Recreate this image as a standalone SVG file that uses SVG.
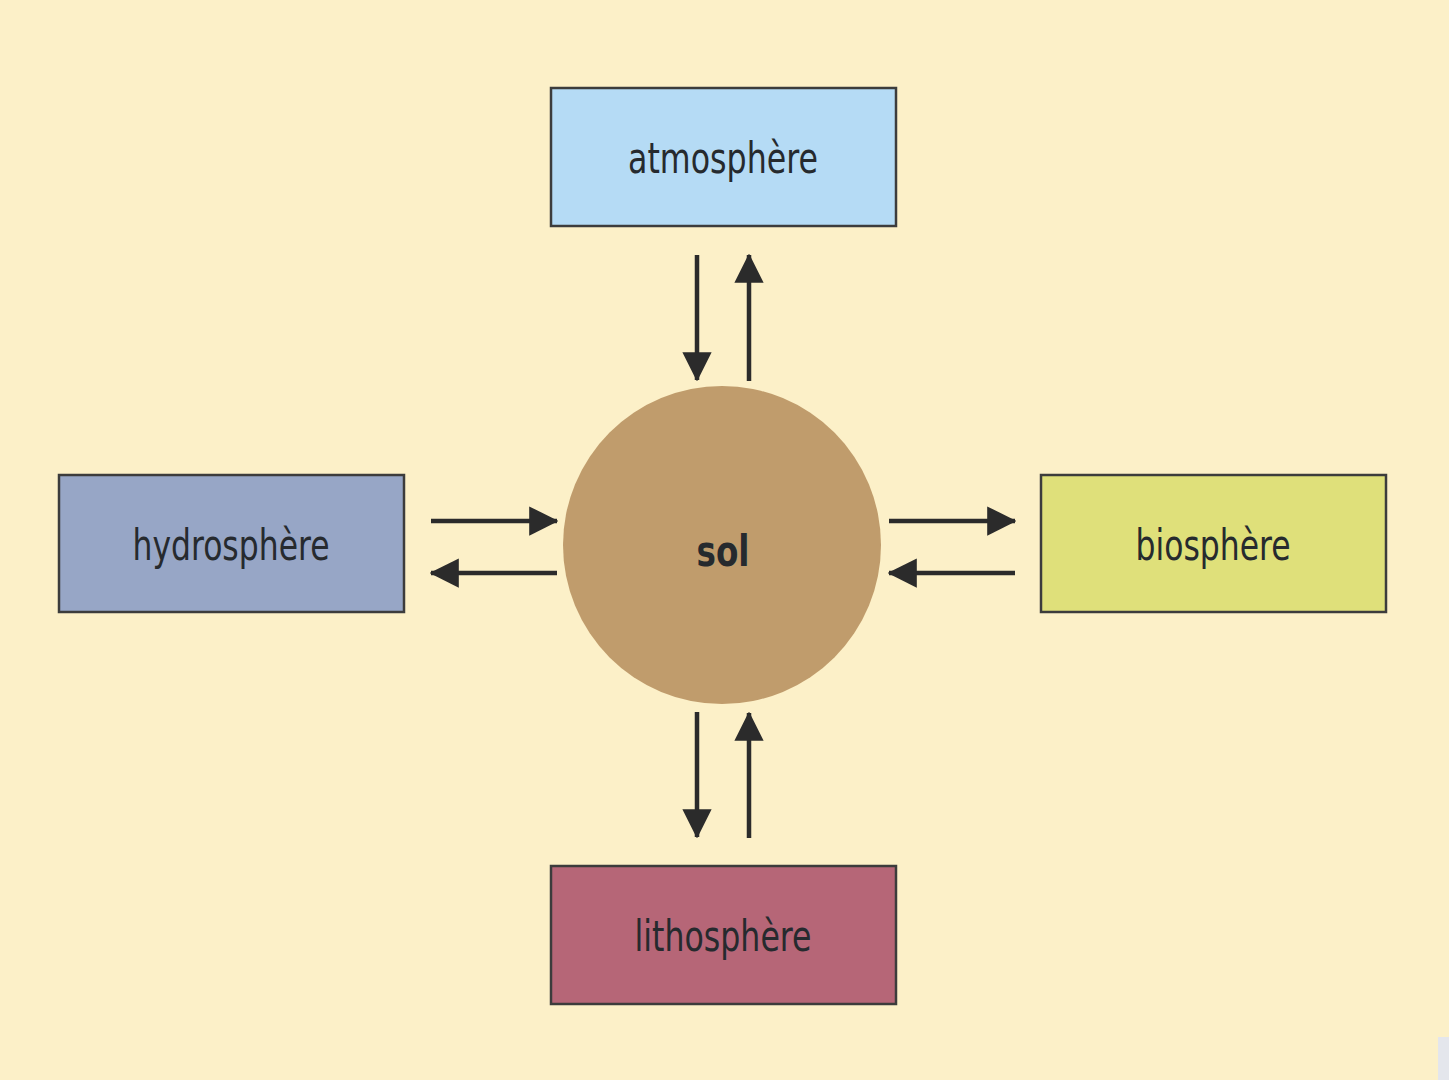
<svg xmlns="http://www.w3.org/2000/svg" width="1449" height="1080" viewBox="0 0 1449 1080">
<style>
.box{stroke:#3c3c3c;stroke-width:2.5}
.lbl{font-family:"Liberation Sans Narrow","DejaVu Sans Condensed","Liberation Sans",sans-serif;font-size:42px;fill:#262a2e;text-anchor:middle}
.arr{stroke:#2b2b2b;stroke-width:4.5;fill:none;marker-end:url(#ah)}
</style>
<defs>
<marker id="ah" viewBox="0 0 10 10" refX="9.5" refY="5" markerWidth="6.5" markerHeight="7.5" markerUnits="strokeWidth" orient="auto">
<path d="M0,0 L10,5 L0,10 Z" fill="#2b2b2b"/>
</marker>
</defs>
<rect width="1449" height="1080" fill="#fcf0c8"/>
<rect x="1438" y="1037" width="11" height="43" fill="#e4e6ec"/>
<g id="connectors">
<line class="arr" x1="697" y1="255" x2="697" y2="380"/>
<line class="arr" x1="749" y1="381" x2="749" y2="255"/>
<line class="arr" x1="697" y1="712" x2="697" y2="837"/>
<line class="arr" x1="749" y1="838" x2="749" y2="713"/>
<line class="arr" x1="431" y1="521" x2="557" y2="521"/>
<line class="arr" x1="557" y1="573" x2="431" y2="573"/>
<line class="arr" x1="889" y1="521" x2="1015" y2="521"/>
<line class="arr" x1="1015" y1="573" x2="889" y2="573"/>
</g>
<g id="sol">
<circle cx="722" cy="545" r="159" fill="#c09c6c"/>
<text class="lbl" x="723" y="566" font-size="46" font-weight="bold" textLength="53" lengthAdjust="spacingAndGlyphs">sol</text>
</g>
<g id="atmosphere">
<rect class="box" x="551" y="88" width="345" height="138" fill="#b5dbf5"/>
<text class="lbl" x="723" y="173" textLength="190" lengthAdjust="spacingAndGlyphs">atmosphère</text>
</g>
<g id="hydrosphere">
<rect class="box" x="59" y="475" width="345" height="137" fill="#97a6c6"/>
<text class="lbl" x="231" y="560" textLength="197" lengthAdjust="spacingAndGlyphs">hydrosphère</text>
</g>
<g id="biosphere">
<rect class="box" x="1041" y="475" width="345" height="137" fill="#dfe07a"/>
<text class="lbl" x="1213" y="560" textLength="155" lengthAdjust="spacingAndGlyphs">biosphère</text>
</g>
<g id="lithosphere">
<rect class="box" x="551" y="866" width="345" height="138" fill="#b66677"/>
<text class="lbl" x="723" y="951" textLength="177" lengthAdjust="spacingAndGlyphs">lithosphère</text>
</g>
</svg>
